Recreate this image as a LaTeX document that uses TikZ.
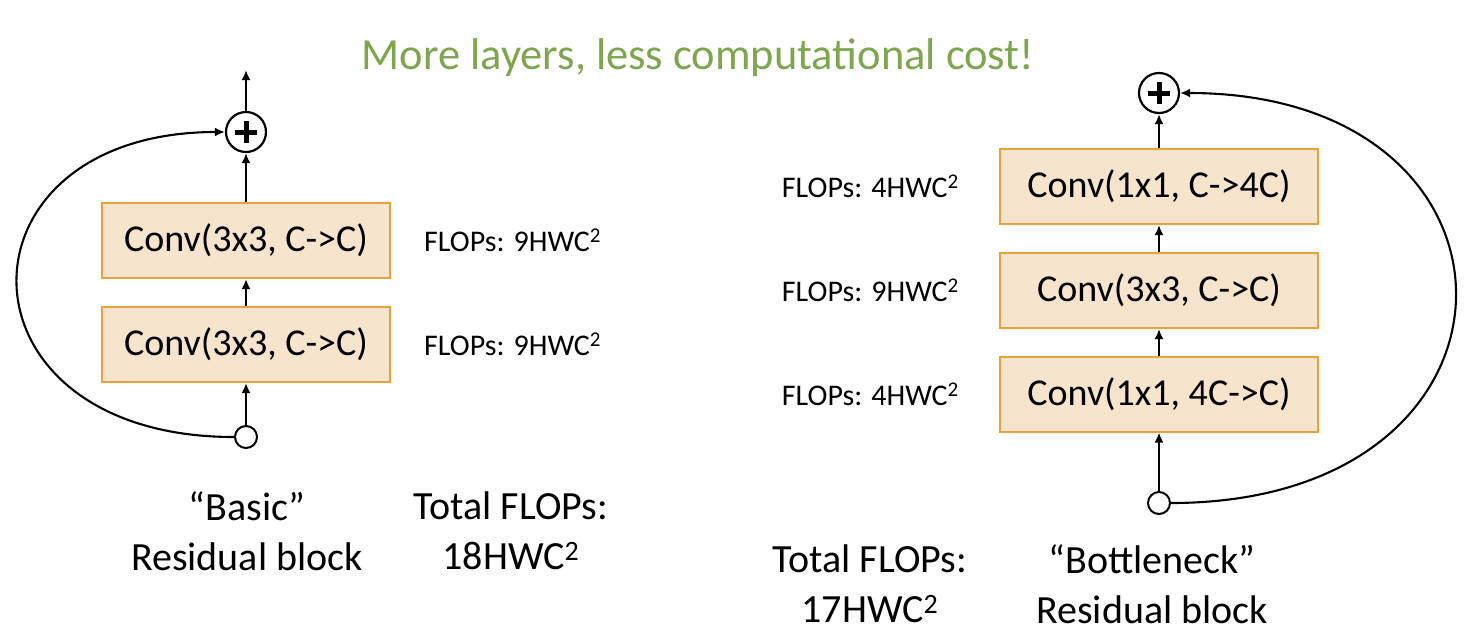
\documentclass[tikz,border=0pt]{standalone}
\usepackage{fontspec}
\setmainfont{Carlito}
\usetikzlibrary{arrows.meta,positioning}
\definecolor{convfill}{HTML}{F6E4CD}
\definecolor{convedge}{HTML}{EBA13A}
\definecolor{titlegreen}{HTML}{7DA64E}

\begin{document}
\begin{tikzpicture}[x=1pt, y=-1pt,
    convbox/.style={draw=convedge, fill=convfill, line width=2pt, minimum height=75pt, inner sep=0pt, font=\fontsize{38}{44}\selectfont},
    flops/.style={inner sep=0pt, font=\fontsize{30}{36}\selectfont},
    caption/.style={align=center, inner sep=0pt, font=\fontsize{40}{50}\selectfont},
    sumnode/.style={circle, draw, line width=2.2pt, minimum size=40pt, inner sep=0pt, fill=white,
        path picture={\draw[line width=5pt] ([xshift=-11pt]path picture bounding box.center) -- ([xshift=11pt]path picture bounding box.center);
                      \draw[line width=5pt] ([yshift=-11pt]path picture bounding box.center) -- ([yshift=11pt]path picture bounding box.center);}},
    innode/.style={circle, draw, line width=2pt, minimum size=22pt, inner sep=0pt, fill=white},
    flow/.style={-{Latex[length=10pt,width=9pt]}, line width=2.7pt},
    skip/.style={-{Latex[length=10pt,width=9pt]}, line width=2.1pt}]
    \useasboundingbox (0,0) rectangle (1474,638);

    % Title
    \node[font=\fontsize{44.5}{50}\selectfont, color=titlegreen] (title) at (698,58) {More layers, less computational cost!};

    % Basic block (left)
    \node[convbox, minimum width=288pt] (bconvb) at (246,344.5) {Conv(3x3, C->C)};
    \node[convbox, minimum width=288pt] (bconva) at (246,240.5) {Conv(3x3, C->C)};
    \node[sumnode] (bsum) at (246,132) {};
    \node[innode] (bin) at (246,437) {};
    \coordinate (bout) at (246,70);

    \draw[flow] (bin) -- (bconvb);
    \draw[flow] (bconvb) -- (bconva);
    \draw[flow] (bconva) -- (bsum);
    \draw[flow] (bsum) -- (bout);
    \draw[skip] (bin.west) .. controls (-53,437) and (-53,132) .. (bsum.west);

    \node[flops, anchor=west, right=33pt of bconva] (bflopsa) {FLOPs: 9HWC\textsuperscript{2}};
    \node[flops, anchor=west, right=33pt of bconvb] (bflopsb) {FLOPs: 9HWC\textsuperscript{2}};

    \node[caption] (bname) at (247,531) {“Basic”\\Residual block};
    \node[caption] (btotal) at (511,531) {Total FLOPs:\\18HWC\textsuperscript{2}};

    % Bottleneck block (right)
    \node[convbox, minimum width=318pt] (nconvc) at (1159,394) {Conv(1x1, 4C->C)};
    \node[convbox, minimum width=318pt] (nconvb) at (1159,290.5) {Conv(3x3, C->C)};
    \node[convbox, minimum width=318pt] (nconva) at (1159,186.5) {Conv(1x1, C->4C)};
    \node[sumnode] (nsum) at (1159,93) {};
    \node[innode] (nin) at (1159,503) {};

    \draw[flow] (nin) -- (nconvc);
    \draw[flow] (nconvc) -- (nconvb);
    \draw[flow] (nconvb) -- (nconva);
    \draw[flow] (nconva) -- (nsum);
    \draw[skip] (nin.east) .. controls (1548,503) and (1548,93) .. (nsum.east);

    \node[flops, anchor=east, left=40pt of nconva] (nflopsa) {FLOPs: 4HWC\textsuperscript{2}};
    \node[flops, anchor=east, left=40pt of nconvb] (nflopsb) {FLOPs: 9HWC\textsuperscript{2}};
    \node[flops, anchor=east, left=40pt of nconvc] (nflopsc) {FLOPs: 4HWC\textsuperscript{2}};

    \node[caption] (ntotal) at (870,584) {Total FLOPs:\\17HWC\textsuperscript{2}};
    \node[caption] (nname) at (1152,584) {“Bottleneck”\\Residual block};
\end{tikzpicture}
\end{document}
